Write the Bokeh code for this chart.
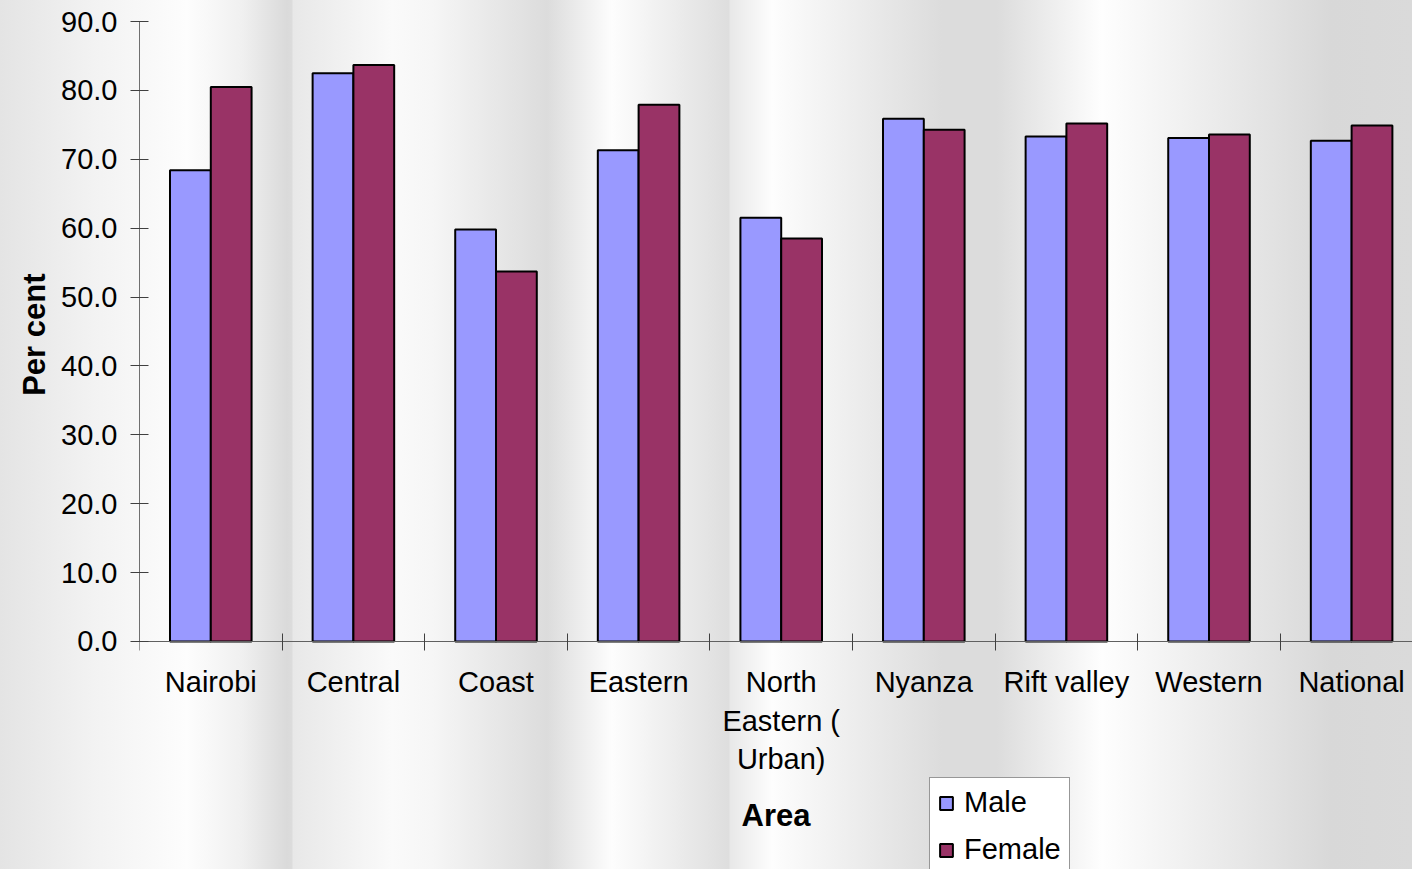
from bokeh.plotting import figure
from bokeh.models import Range1d, FixedTicker, NumeralTickFormatter, Title
from bokeh.embed import file_html
from bokeh.resources import INLINE

# ---- data ----
areas = ["Nairobi", "Central", "Coast", "Eastern", "North\nEastern (\nUrban)",
         "Nyanza", "Rift valley", "Western", "National"]
male = [68.4, 82.5, 59.8, 71.3, 61.5, 75.9, 73.3, 73.1, 72.7]
female = [80.5, 83.7, 53.7, 77.9, 58.5, 74.3, 75.2, 73.6, 74.9]
y_ticks = [0, 10, 20, 30, 40, 50, 60, 70, 80, 90]
series_names = ["Male", "Female"]
series_colors = ["#9999FF", "#993366"]

FONT = "Liberation Sans"

centers = [i + 0.5 for i in range(len(areas))]
bar_w = 0.286
male_x = [c - bar_w / 2 for c in centers]
female_x = [c + bar_w / 2 for c in centers]

# frame spans down to the figure bottom so the legend can sit below the axis
p = figure(width=1412, height=869, output_backend="svg", toolbar_location=None,
           x_range=Range1d(0, 8.927), y_range=Range1d(-33.1, 90),
           min_border_left=139, min_border_right=0, min_border_top=21,
           min_border_bottom=0,
           background_fill_color=None, border_fill_color=None,
           outline_line_color=None)

# striped grey background of the slide (CSS on the figure host)
stops = [(0, 228), (92, 242), (187, 253), (242, 240), (287, 218), (292, 220),
         (293, 232), (392, 250), (432, 246), (547, 220), (612, 253),
         (729, 222), (730, 232), (772, 253), (942, 220), (997, 220),
         (1102, 254), (1332, 216), (1412, 218)]
grad = ", ".join(f"rgb({g},{g},{g}) {x}px" for x, g in stops)
p.styles = {"background": f"linear-gradient(to right, {grad})"}

p.vbar(x=male_x, top=male, width=bar_w, bottom=0, fill_color=series_colors[0],
       line_color="black", line_width=2, legend_label=series_names[0])
p.vbar(x=female_x, top=female, width=bar_w, bottom=0, fill_color=series_colors[1],
       line_color="black", line_width=2, legend_label=series_names[1])

p.xgrid.visible = False
p.ygrid.visible = False

# x axis: labels at category centres, tick marks at category boundaries
xa = p.xaxis[0]
xa.fixed_location = 0
xa.ticker = FixedTicker(ticks=centers, minor_ticks=list(range(len(areas) + 1)))
xa.major_label_overrides = {c: a for c, a in zip(centers, areas)}
xa.major_tick_in = 0
xa.major_tick_out = 0
xa.minor_tick_in = 8
xa.minor_tick_out = 9
xa.minor_tick_line_color = "#404040"
xa.axis_line_color = "#606060"
xa.major_label_text_font = FONT
xa.major_label_text_font_size = "29px"
xa.major_label_text_color = "black"
xa.major_label_text_line_height = 1.2
xa.major_label_standoff = 16
xa.axis_label = "Area"
xa.axis_label_text_font = FONT
xa.axis_label_text_font_size = "31px"
xa.axis_label_text_font_style = "bold"
xa.axis_label_text_color = "black"
xa.axis_label_standoff = 20

ya = p.yaxis[0]
ya.bounds = (0, 90)
ya.ticker = FixedTicker(ticks=y_ticks, minor_ticks=[])
ya.formatter = NumeralTickFormatter(format="0.0")
ya.major_tick_in = 9
ya.major_tick_out = 9
ya.major_tick_line_color = "#404040"
ya.axis_line_color = "#707070"
ya.major_label_text_font = FONT
ya.major_label_text_font_size = "29px"
ya.major_label_text_color = "black"
ya.major_label_standoff = 13

# y axis title, placed along the 0-90 part of the axis
ytitle = Title(text="Per cent", align="right", offset=252, standoff=14,
               text_font=FONT, text_font_size="31px", text_font_style="bold",
               text_color="black")
p.add_layout(ytitle, "left")

lg = p.legend[0]
lg.location = (790, -6)
lg.label_text_font = FONT
lg.label_text_font_size = "29px"
lg.label_text_color = "black"
lg.glyph_width = 16
lg.glyph_height = 16
lg.label_standoff = 10
lg.label_height = 33
lg.spacing = 14
lg.padding = 8
lg.margin = 0
lg.background_fill_color = "white"
lg.background_fill_alpha = 1
lg.border_line_color = "#303030"
lg.border_line_width = 1

open("out.html", "w").write(file_html(p, INLINE))
